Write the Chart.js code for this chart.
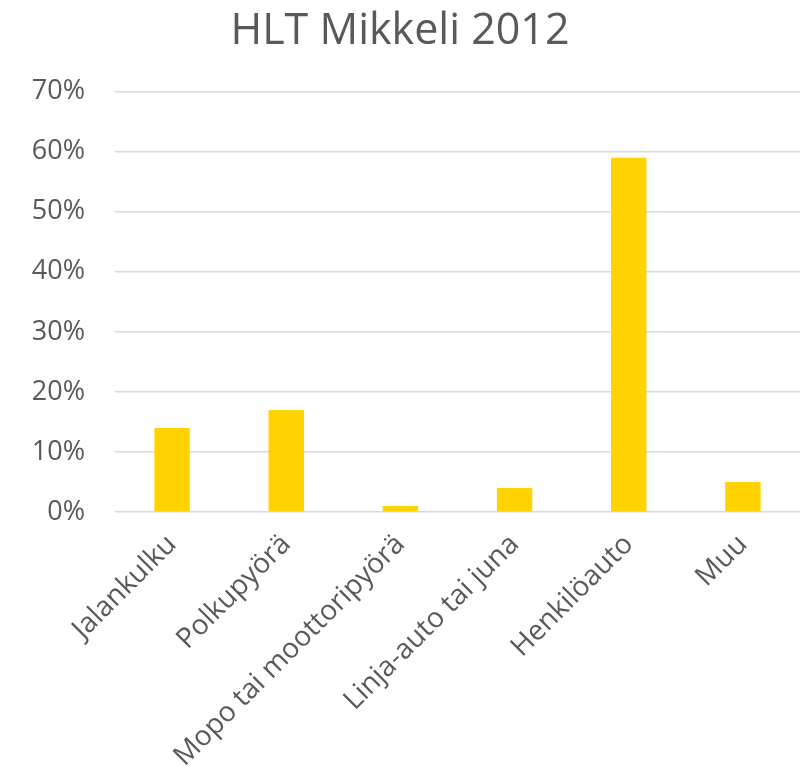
<!DOCTYPE html>
<html>
<head>
<meta charset="utf-8">
<script src="https://cdn.jsdelivr.net/npm/chart.js@4"></script>
<style>
  html, body { margin: 0; padding: 0; background: #fff; }
  #wrap { width: 808px; height: 777px; }
</style>
</head>
<body>
<div id="wrap"><canvas id="chart" width="808" height="777"></canvas></div>
<script>
// data
const categories = ["Jalankulku", "Polkupyörä", "Mopo tai moottoripyörä", "Linja-auto tai juna", "Henkilöauto", "Muu"];
const shares = [14, 17, 1, 4, 59, 5];
const yTicks = [0, 10, 20, 30, 40, 50, 60, 70];

const gray = "#595959";
const font = "'Open Sans', 'Noto Sans', sans-serif";

new Chart(document.getElementById("chart"), {
  type: "bar",
  data: {
    labels: categories,
    datasets: [{ data: shares, backgroundColor: "#ffd200", barPercentage: 0.31, categoryPercentage: 1 }]
  },
  options: {
    responsive: false,
    animation: false,
    layout: { padding: { left: 0, right: 8, top: 4, bottom: 0 } },
    plugins: {
      legend: { display: false },
      tooltip: { enabled: false },
      title: {
        display: true,
        text: "HLT Mikkeli 2012",
        color: gray,
        font: { family: font, size: 43, weight: "normal" },
        padding: { top: 2, bottom: 34 }
      }
    },
    scales: {
      x: {
        grid: { display: false },
        border: { display: false },
        ticks: {
          color: gray, font: { family: font, size: 28 },
          maxRotation: 45, minRotation: 45, padding: 8
        },
        afterFit: s => { s.height = 265; }
      },
      y: {
        min: 0, max: 70,
        afterBuildTicks: s => { s.ticks = yTicks.map(v => ({ value: v })); },
        grid: { color: "#d9d9d9", lineWidth: 1.5, drawTicks: false },
        border: { display: false },
        ticks: {
          color: gray, font: { family: font, size: 27 }, padding: 30,
          callback: v => v + "%"
        },
        afterFit: s => { s.width = 115; }
      }
    }
  }
});
</script>
</body>
</html>
